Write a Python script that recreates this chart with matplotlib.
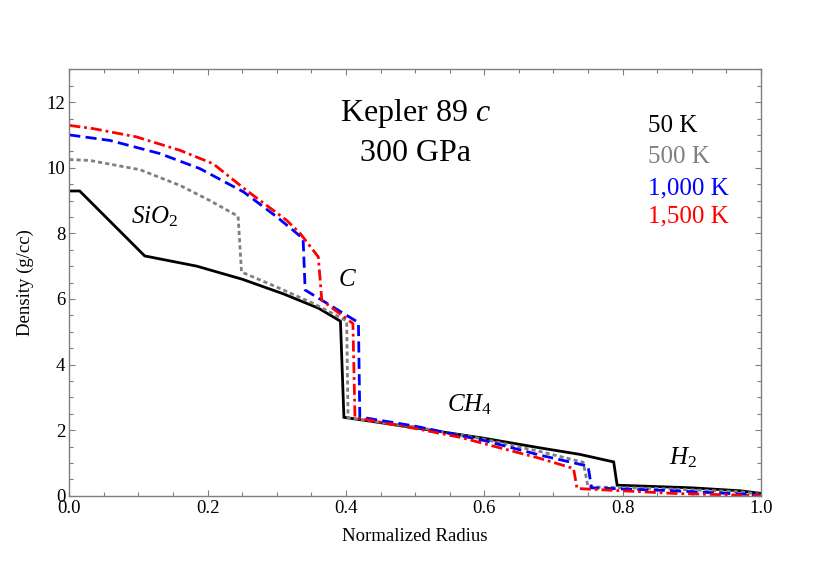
import matplotlib
matplotlib.use("Agg")
import matplotlib.pyplot as plt
from matplotlib.ticker import MultipleLocator

plt.rcParams['font.family'] = ['Liberation Serif', 'DejaVu Serif']
plt.rcParams['mathtext.fontset'] = 'custom'
plt.rcParams['mathtext.rm'] = 'Liberation Serif'
plt.rcParams['mathtext.it'] = 'Liberation Serif:italic'

# ---- data ----
r_50 = [0.0, 0.015, 0.109, 0.184, 0.25, 0.31, 0.36, 0.392, 0.397, 0.5, 0.6, 0.68, 0.738, 0.787, 0.792, 0.9, 0.97, 1.0]
d_50 = [9.29, 9.29, 7.31, 7.00, 6.60, 6.15, 5.72, 5.32, 2.39, 2.07, 1.75, 1.46, 1.26, 1.03, 0.32, 0.24, 0.15, 0.07]

r_500 = [0.0, 0.03, 0.102, 0.16, 0.203, 0.244, 0.249, 0.30, 0.353, 0.401, 0.403, 0.5, 0.6, 0.68, 0.743, 0.75, 0.85, 0.97, 1.0]
d_500 = [10.25, 10.22, 9.94, 9.46, 9.00, 8.52, 6.82, 6.36, 5.86, 5.33, 2.37, 2.10, 1.72, 1.35, 1.02, 0.27, 0.22, 0.12, 0.04]

r_1000 = [0.0, 0.059, 0.131, 0.189, 0.252, 0.30, 0.338, 0.341, 0.418, 0.42, 0.5, 0.6, 0.68, 0.75, 0.755, 0.873, 1.0]
d_1000 = [11.0, 10.83, 10.43, 9.97, 9.26, 8.50, 7.84, 6.27, 5.28, 2.40, 2.12, 1.68, 1.24, 0.90, 0.24, 0.15, 0.02]

r_1500 = [0.0, 0.035, 0.097, 0.16, 0.208, 0.256, 0.314, 0.334, 0.36, 0.365, 0.41, 0.413, 0.5, 0.565, 0.68, 0.729, 0.734, 0.873, 1.0]
d_1500 = [11.29, 11.19, 10.94, 10.53, 10.12, 9.31, 8.40, 7.99, 7.28, 5.96, 5.25, 2.38, 2.05, 1.78, 1.14, 0.83, 0.22, 0.07, 0.0]

temp_labels = ["50 K", "500 K", "1,000 K", "1,500 K"]
temp_colors = ["black", "#808080", "blue", "red"]

fig = plt.figure(figsize=(8.3, 5.66), dpi=100)
ax = fig.add_axes([69.3/830, 1 - 495.7/566, 691.7/830, 426.4/566])

lw = 2.0
ax.plot(r_50, d_50, color="black", lw=lw, solid_joinstyle='miter')
ax.plot(r_500, d_500, color="#808080", lw=lw, dashes=(1.5, 1.1))
ax.plot(r_1000, d_1000, color="blue", lw=lw, dashes=(4.0, 1.9))
ax.plot(r_1500, d_1500, color="red", lw=lw, dashes=(4.0, 1.4, 1.0, 1.4))

ax.set_xlim(0, 1.0)
ax.set_ylim(0, 13)
ax.xaxis.set_major_locator(MultipleLocator(0.2))
ax.xaxis.set_minor_locator(MultipleLocator(0.05))
ax.yaxis.set_major_locator(MultipleLocator(2))
ax.yaxis.set_minor_locator(MultipleLocator(0.5))
ax.set_xticklabels([f"{v:.1f}" for v in ax.get_xticks()])

spine_col = "#7f7f7f"
for s in ax.spines.values():
    s.set_color(spine_col)
    s.set_linewidth(1.0)
ax.tick_params(which='both', direction='in', top=True, right=True, color=spine_col,
               labelsize=13.5, labelcolor='black', pad=3)
ax.tick_params(which='major', length=4.2, width=0.8)
ax.tick_params(which='minor', length=2.6, width=0.8)

ax.set_xlabel("Normalized Radius", fontsize=13.5, labelpad=8)
ax.set_ylabel("Density (g/cc)", fontsize=13.5, labelpad=9)

ax.text(0.5, 0.897, "Kepler 89 $c$", transform=ax.transAxes, ha='center', va='center', fontsize=23)
ax.text(0.501, 0.803, "300 GPa", transform=ax.transAxes, ha='center', va='center', fontsize=23)

ys = [0.867, 0.795, 0.721, 0.654]
for lab, col, yy in zip(temp_labels, temp_colors, ys):
    ax.text(0.837, yy, lab, color=col, transform=ax.transAxes, ha='left', va='center', fontsize=18)

ax.text(0.124, 0.654, "$SiO_2$", transform=ax.transAxes, ha='center', va='center', fontsize=18)
ax.text(0.402, 0.506, "$C$", transform=ax.transAxes, ha='center', va='center', fontsize=18)
ax.text(0.579, 0.213, "$CH_4$", transform=ax.transAxes, ha='center', va='center', fontsize=18)
ax.text(0.887, 0.0885, "$H_2$", transform=ax.transAxes, ha='center', va='center', fontsize=18)

fig.savefig("out.png", dpi=100)
